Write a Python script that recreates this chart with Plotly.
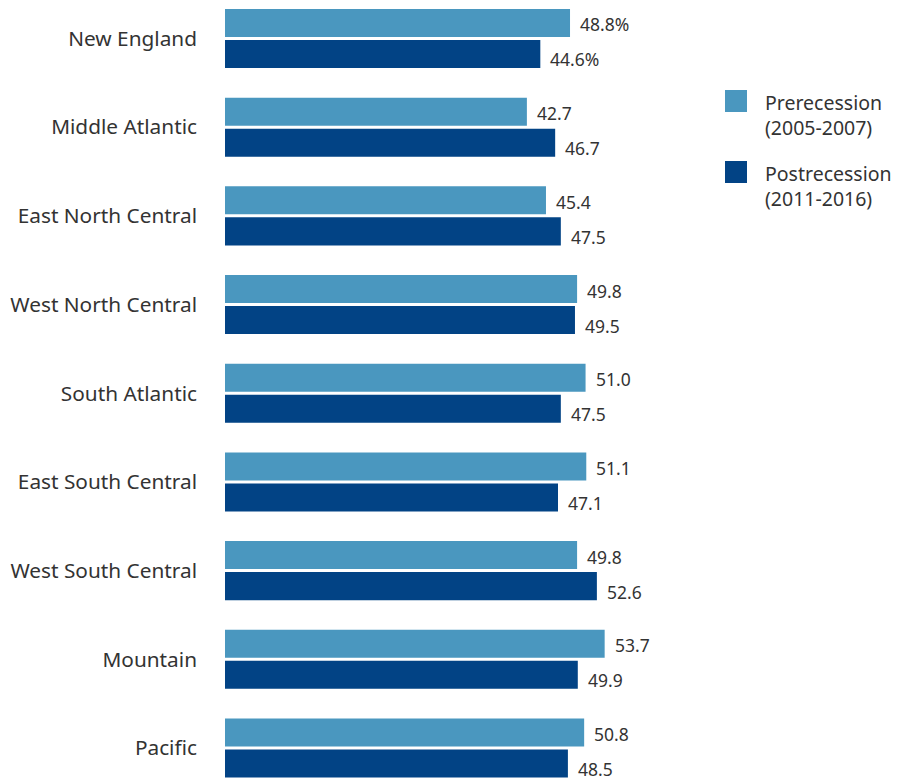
import plotly.graph_objects as go

regions = [
    "New England", "Middle Atlantic", "East North Central", "West North Central",
    "South Atlantic", "East South Central", "West South Central", "Mountain", "Pacific",
]
pre_values = [48.8, 42.7, 45.4, 49.8, 51.0, 51.1, 49.8, 53.7, 50.8]
post_values = [44.6, 46.7, 47.5, 49.5, 47.5, 47.1, 52.6, 49.9, 48.5]
series_names = ["Prerecession<br>(2005-2007)", "Postrecession<br>(2011-2016)"]
series_colors = ["#4A97BF", "#024385"]

FONT = "Noto Sans"
TEXT = "#333333"

W, H = 899, 780
ML, MR = 225, 199
PW = W - ML - MR

fig = go.Figure()
for name, vals, col in zip(series_names, [pre_values, post_values], series_colors):
    fig.add_trace(go.Bar(
        x=vals, y=regions, orientation="h", name=name,
        marker=dict(color=col, line=dict(width=0)),
        showlegend=False, hoverinfo="x+y",
    ))

# Value labels beside each bar
annotations = []
for vals, yshift in [(pre_values, 14), (post_values, -21)]:
    for i, (r, v) in enumerate(zip(regions, vals)):
        label = f"{v:.1f}" + ("%" if i == 0 else "")
        annotations.append(dict(
            x=v, y=r, xref="x", yref="y", text=label, showarrow=False,
            xanchor="left", yanchor="middle", xshift=8, yshift=yshift,
            font=dict(family=FONT, size=17.5, color=TEXT),
        ))

# Legend drawn as swatches with two-line captions
shapes = []
legend_rows = [101, 172]  # pixel centres of the swatches
for name, col, cy in zip(series_names, series_colors, legend_rows):
    x0 = (725 - ML) / PW
    x1 = (747 - ML) / PW
    shapes.append(dict(
        type="rect", xref="paper", yref="paper",
        x0=x0, x1=x1, y0=1 - (cy + 11) / H, y1=1 - (cy - 11) / H,
        fillcolor=col, line=dict(width=0),
    ))
    annotations.append(dict(
        x=(763 - ML) / PW, y=1 - (cy - 14) / H, xref="paper", yref="paper",
        text=name, showarrow=False, xanchor="left", yanchor="top", align="left",
        font=dict(family=FONT, size=19.5, color=TEXT),
    ))

fig.update_layout(
    width=W, height=H,
    margin=dict(l=ML, r=MR, t=0, b=0),
    paper_bgcolor="white", plot_bgcolor="white",
    barmode="group", bargap=0.30, bargroupgap=0.097,
    font=dict(family=FONT, color=TEXT),
    xaxis=dict(range=[0, PW / 7.07], visible=False, showgrid=False, zeroline=False),
    yaxis=dict(
        type="category", range=[8.361, -0.434],
        showgrid=False, zeroline=False, showline=False,
        ticks="", ticklabelstandoff=27,
        tickfont=dict(family=FONT, size=20.8, color=TEXT),
    ),
    annotations=annotations, shapes=shapes,
)

fig.write_html("out.html")
